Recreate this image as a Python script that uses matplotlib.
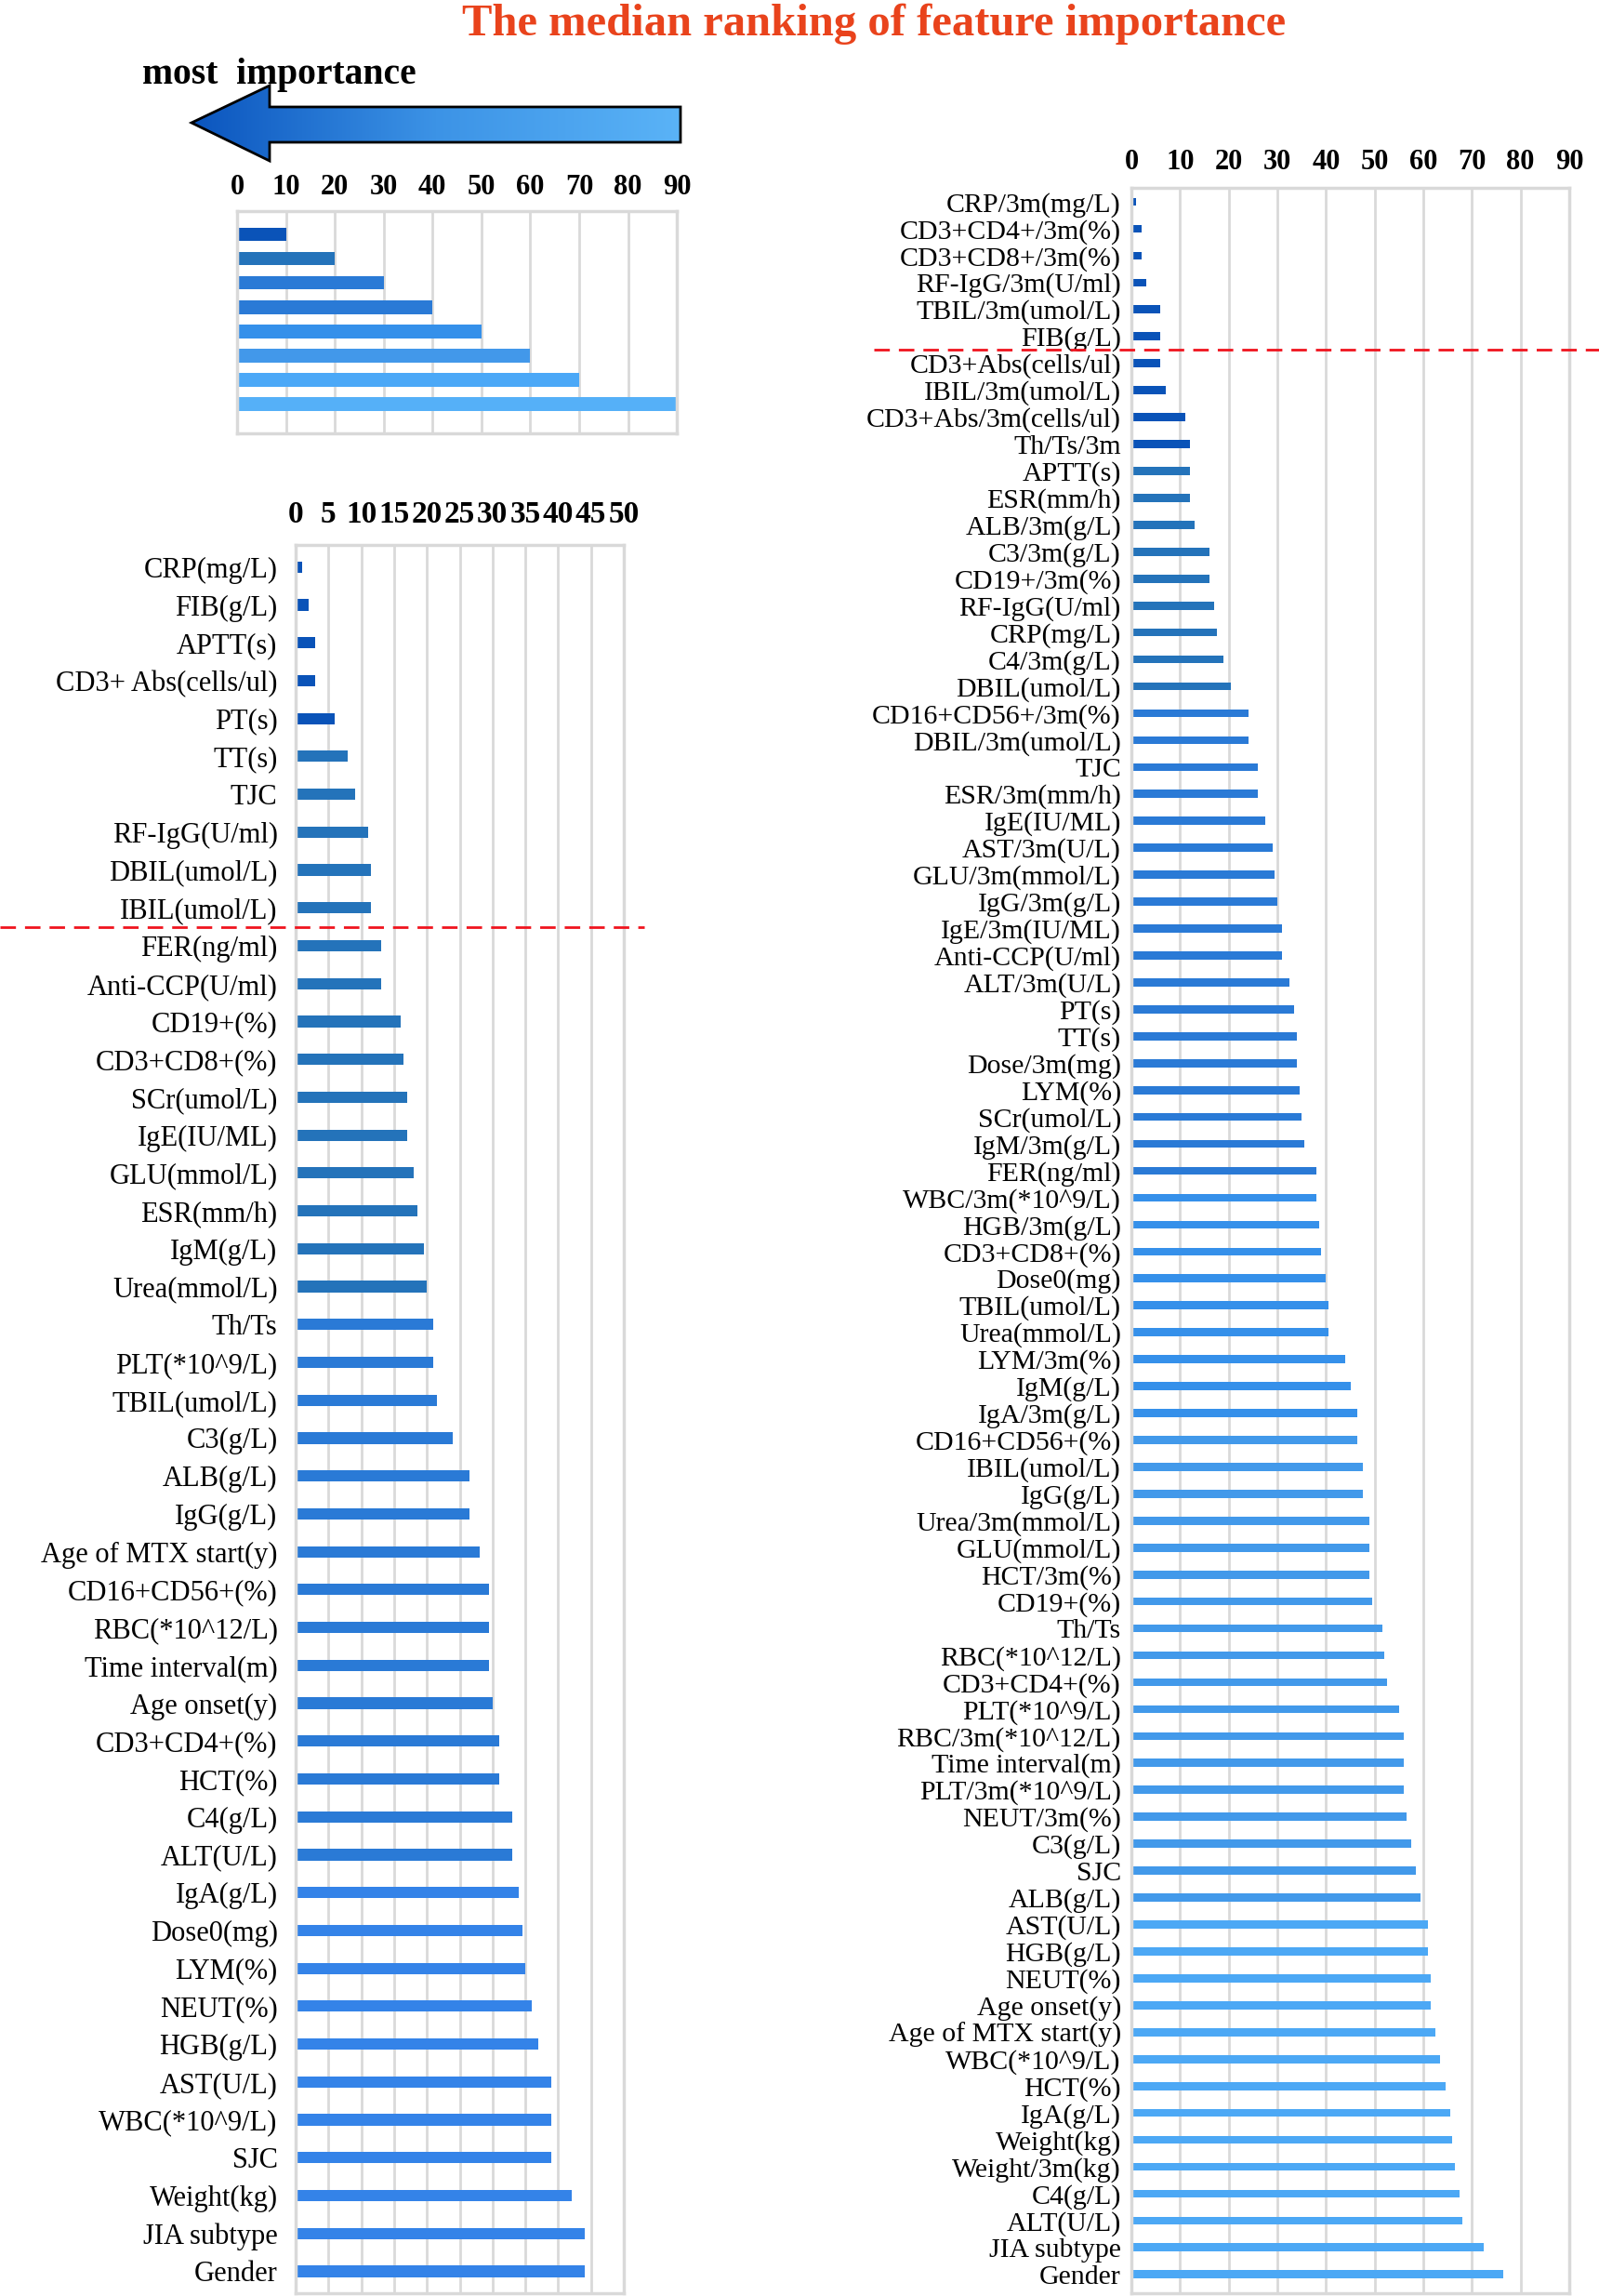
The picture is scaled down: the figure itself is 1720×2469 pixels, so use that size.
import matplotlib
matplotlib.use("Agg")
import matplotlib.pyplot as plt
import numpy as np
from matplotlib.patches import Polygon
from matplotlib.lines import Line2D
from matplotlib.colors import LinearSegmentedColormap
from matplotlib.transforms import blended_transform_factory

plt.rcParams['font.family'] = ['Liberation Serif', 'DejaVu Serif']

# legend scale (top left small chart)
scale_vals = [10, 20, 30, 40, 50, 60, 70, 90]
scale_colors = ["#0A53B8", "#2473BA", "#2A7AD6", "#2A7AD6", "#3590EA", "#4298EA", "#4BA8F7", "#55B0F8"]

# baseline features (left chart)
left_labels = ["CRP(mg/L)", "FIB(g/L)", "APTT(s)", "CD3+ Abs(cells/ul)", "PT(s)", "TT(s)", "TJC",
               "RF-IgG(U/ml)", "DBIL(umol/L)", "IBIL(umol/L)", "FER(ng/ml)", "Anti-CCP(U/ml)",
               "CD19+(%)", "CD3+CD8+(%)", "SCr(umol/L)", "IgE(IU/ML)", "GLU(mmol/L)", "ESR(mm/h)",
               "IgM(g/L)", "Urea(mmol/L)", "Th/Ts", "PLT(*10^9/L)", "TBIL(umol/L)", "C3(g/L)",
               "ALB(g/L)", "IgG(g/L)", "Age of MTX start(y)", "CD16+CD56+(%)", "RBC(*10^12/L)",
               "Time interval(m)", "Age onset(y)", "CD3+CD4+(%)", "HCT(%)", "C4(g/L)", "ALT(U/L)",
               "IgA(g/L)", "Dose0(mg)", "LYM(%)", "NEUT(%)", "HGB(g/L)", "AST(U/L)", "WBC(*10^9/L)",
               "SJC", "Weight(kg)", "JIA subtype", "Gender"]
left_vals = [1, 2, 3, 3, 6, 8, 9, 11, 11.5, 11.5, 13, 13, 16, 16.5, 17, 17, 18, 18.5, 19.5, 20,
             21, 21, 21.5, 24, 26.5, 26.5, 28, 29.5, 29.5, 29.5, 30, 31, 31, 33, 33, 34, 34.5, 35,
             36, 37, 39, 39, 39, 42, 44, 44]
left_colors = ["#0A53B8"] * 5 + ["#2473BA"] * 15 + ["#2A7AD6"] * 15 + ["#3483E8"] * 11

# features incl. 3-month values (right chart)
right_labels = ["CRP/3m(mg/L)", "CD3+CD4+/3m(%)", "CD3+CD8+/3m(%)", "RF-IgG/3m(U/ml)",
                "TBIL/3m(umol/L)", "FIB(g/L)", "CD3+Abs(cells/ul)", "IBIL/3m(umol/L)",
                "CD3+Abs/3m(cells/ul)", "Th/Ts/3m", "APTT(s)", "ESR(mm/h)", "ALB/3m(g/L)",
                "C3/3m(g/L)", "CD19+/3m(%)", "RF-IgG(U/ml)", "CRP(mg/L)", "C4/3m(g/L)",
                "DBIL(umol/L)", "CD16+CD56+/3m(%)", "DBIL/3m(umol/L)", "TJC", "ESR/3m(mm/h)",
                "IgE(IU/ML)", "AST/3m(U/L)", "GLU/3m(mmol/L)", "IgG/3m(g/L)", "IgE/3m(IU/ML)",
                "Anti-CCP(U/ml)", "ALT/3m(U/L)", "PT(s)", "TT(s)", "Dose/3m(mg)", "LYM(%)",
                "SCr(umol/L)", "IgM/3m(g/L)", "FER(ng/ml)", "WBC/3m(*10^9/L)", "HGB/3m(g/L)",
                "CD3+CD8+(%)", "Dose0(mg)", "TBIL(umol/L)", "Urea(mmol/L)", "LYM/3m(%)",
                "IgM(g/L)", "IgA/3m(g/L)", "CD16+CD56+(%)", "IBIL(umol/L)", "IgG(g/L)",
                "Urea/3m(mmol/L)", "GLU(mmol/L)", "HCT/3m(%)", "CD19+(%)", "Th/Ts",
                "RBC(*10^12/L)", "CD3+CD4+(%)", "PLT(*10^9/L)", "RBC/3m(*10^12/L)",
                "Time interval(m)", "PLT/3m(*10^9/L)", "NEUT/3m(%)", "C3(g/L)", "SJC", "ALB(g/L)",
                "AST(U/L)", "HGB(g/L)", "NEUT(%)", "Age onset(y)", "Age of MTX start(y)",
                "WBC(*10^9/L)", "HCT(%)", "IgA(g/L)", "Weight(kg)", "Weight/3m(kg)", "C4(g/L)",
                "ALT(U/L)", "JIA subtype", "Gender"]
right_vals = [1, 2, 2, 3, 6, 6, 6, 7, 11, 12, 12, 12, 13, 16, 16, 17, 17.5, 19, 20.5, 24, 24,
              26, 26, 27.5, 29, 29.5, 30, 31, 31, 32.5, 33.5, 34, 34, 34.5, 35, 35.5, 38, 38,
              38.5, 39, 40, 40.5, 40.5, 44, 45, 46.5, 46.5, 47.5, 47.5, 49, 49, 49, 49.5, 51.5,
              52, 52.5, 55, 56, 56, 56, 56.5, 57.5, 58.5, 59.5, 61, 61, 61.5, 61.5, 62.5, 63.5,
              64.5, 65.5, 66, 66.5, 67.5, 68, 72.5, 76.5]
right_colors = (["#0A53B8"] * 10 + ["#2473BA"] * 9 + ["#2A7AD6"] * 18 + ["#3590EA"] * 9
                + ["#4299EA"] * 18 + ["#4CA8F5"] * 14)

grid_c = "#D9D9D9"

fig = plt.figure(figsize=(17.2, 24.69), dpi=100)


def style(ax, xmax, step, tsize, pad):
    ax.set_xlim(0, xmax)
    ax.set_xticks(np.arange(0, xmax + 1, step))
    ax.xaxis.tick_top()
    ax.tick_params(axis='x', length=0, pad=pad, labelsize=tsize)
    for t in ax.get_xticklabels():
        t.set_fontweight('bold')
    ax.grid(axis='x', color=grid_c, linewidth=2)
    ax.set_axisbelow(True)
    for s in ax.spines.values():
        s.set_color(grid_c)
        s.set_linewidth(2.5)


# small scale chart
ax0 = fig.add_axes([0.1483, 0.8113, 0.275, 0.0968])
y0 = np.arange(len(scale_vals))
ax0.barh(y0, scale_vals, height=0.55, color=scale_colors)
ax0.set_ylim(len(scale_vals) - 1 + 1.2, -0.97)
ax0.set_yticks([])
style(ax0, 90, 10, 22, 8)

# left chart
ax1 = fig.add_axes([0.1849, 0.0012, 0.2052, 0.7614])
y1 = np.arange(len(left_vals))
ax1.barh(y1, left_vals, height=0.3, color=left_colors)
ax1.set_ylim(len(left_vals) - 1 + 0.58, -0.58)
ax1.set_yticks(y1, left_labels)
ax1.tick_params(axis='y', length=0, pad=14, labelsize=22)
style(ax1, 50, 5, 24, 12)

# right chart
ax2 = fig.add_axes([0.7076, 0.0012, 0.2738, 0.917])
y2 = np.arange(len(right_vals))
ax2.barh(y2, right_vals, height=0.3, color=right_colors)
ax2.set_ylim(len(right_vals) - 1 + 0.7, -0.52)
ax2.set_yticks(y2, right_labels)
ax2.tick_params(axis='y', length=0, pad=8, labelsize=21.5)
style(ax2, 90, 10, 22, 9)

# red dashed cut lines
tr1 = blended_transform_factory(fig.transFigure, ax1.transData)
fig.add_artist(Line2D([0, 0.403], [9.5, 9.5], transform=tr1, color='#F0141E',
                      lw=2, dashes=(6, 3.5)))
tr2 = blended_transform_factory(fig.transFigure, ax2.transData)
fig.add_artist(Line2D([0.5465, 1.0], [5.5, 5.5], transform=tr2, color='#F0141E',
                      lw=2, dashes=(6, 3.5)))

# overlay for arrow
ov = fig.add_axes([0, 0, 1, 1], facecolor='none')
ov.set_axis_off()
pts = [(206, 132), (290, 92), (290, 115), (732, 115), (732, 153), (290, 153), (290, 173)]
cmap = LinearSegmentedColormap.from_list("arr", ["#0B55BE", "#3C93E6", "#5AB3F7"])
grad = np.linspace(0, 1, 256).reshape(1, -1)
im = ov.imshow(grad, extent=(206, 732, 173, 92), cmap=cmap, aspect='auto')
arrow = Polygon(pts, closed=True, facecolor='none', edgecolor='black', lw=2)
ov.add_patch(arrow)
im.set_clip_path(arrow)
ov.set_xlim(0, 1720)
ov.set_ylim(2469, 0)

fig.text(0.5465, 0.9985, "The median ranking of feature importance", ha='center', va='top',
         fontsize=35, fontweight='bold', color='#E9431C')
fig.text(153 / 1720, 1 - 90 / 2469, "most  importance", ha='left', va='baseline',
         fontsize=28.5, fontweight='bold')

fig.savefig("out.png", dpi=100)
